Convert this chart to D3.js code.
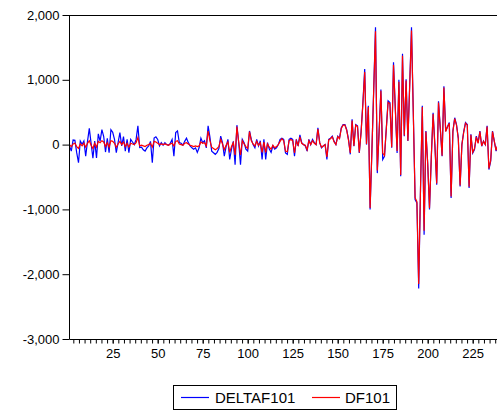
<!DOCTYPE html>
<html>
<head>
<meta charset="utf-8">
<script src="https://cdn.jsdelivr.net/npm/d3@7"></script>
<style>
  html, body { margin: 0; padding: 0; background: #fff; overflow: hidden; }
  svg text { font-family: "Liberation Sans", Arial, Helvetica, sans-serif; fill: #000; }
</style>
</head>
<body>
<svg id="chart" width="497" height="412"></svg>
<script>
// Series values, observations 1..239
const deltaf101 = [
  -20, -100, 70, 65, -125, -280, 55, 5, 55, -180,
  50, 250, 20, -210, 55, -205, 165, 55, 230, 125,
  -115, 95, -125, 230, 190, 80, -125, 30, 185, -20,
  125, -100, 80, -125, 80, 40, 0, 80, 290, -45,
  -40, -80, -100, -50, -20, 50, -280, 100, 120, 80,
  -20, 30, -10, 30, 0, -10, 20, 80, -180, 185,
  210, 30, 20, -10, 50, 100, 30, -20, -50, -70,
  -50, -120, -50, 100, 30, 60, -50, 290, 120, -100,
  -125, -150, -120, -60, 130, 30, -180, -30, 80, -230,
  -70, 50, -310, 300, 30, -310, 80, 30, -70, -100,
  210, 80, 0, -50, 80, -20, 60, -230, 80, -230,
  30, -70, -120, -20, -70, -50, 0, 80,
  100, 80, -130, -150, 80, 100, 80, -180, 80, -20,
  150, 30, 0, -20, -100, 80, 0, 80, 30, 0,
  260, 30, -50, -20, 0, -230, 80, 100, 130, 50,
  0, 130, 100, 260, 310, 310, 230, 80, -150, 390,
  -25, 310, 290,
  -130, 200, 650, 1165, 0, 600, -1000, -100, 850, 1810,
  -440, 200, 850, -230, -180, 250, 675, 650, -50, 1270,
  570, -130, 1000, -490, 1400, 130, 1010, 55, 930, 1810,
  500, -850, -900, -2220, -700, 600, -1390, 210, -300,
  -1000, -200, 490, 0, -620, 670, 250, -180, 900, 210,
  280, 340, -825, 210, 415, 310, 100, -645, 0, 200,
  340, 310, -670, 160, -130, -75, 130, 30, 210, -25,
  55, 0, 290, -385, -255, 210, 55, -100, 0
];

const df101 = [
  0, -30, 10, 20, -30, -60, 10, -20, 20, -40,
  20, 60, -10, -60, 20, -40, 50, 30, 60, 40,
  -30, 30, -40, 60, 50, 20, -40, 10, 50, 0,
  40, -30, 20, -40, 20, 10, 0, 30, 110, -20,
  -10, -20, -30, -10, 0, 20, -40, 50, 40, 20,
  0, 10, 0, 10, 0, -10, 10, 20, -20, 50,
  60, 10, 0, -10, 20, 30, 10, -10, -20, -30,
  -20, -30, -20, 40, 20, 30, -20, 210, 60, -40,
  -60, -80, -60, -30, 80, 10, -80, -10, 40, -120,
  -30, 30, -160, 280, 40, -160, 60, 10, -30, -60,
  200, 60, 10, -20, 50, -10, 30, -120, 40, -120,
  10, -40, -70, -10, -50, -30, 0, 50,
  90, 60, -100, -110, 60, 80, 60, -130, 60, -10,
  120, 20, 0, -10, -80, 60, 0, 60, 20, 0,
  240, 30, -40, -20, 0, -190, 70, 90, 120, 40,
  0, 120, 90, 250, 300, 300, 220, 70, -130, 370,
  -20, 300, 280,
  -120, 190, 630, 1120, 10, 580, -980, -90, 830, 1750,
  -400, 190, 830, -130, -170, 240, 650, 630, -40, 1230,
  550, -100, 970, -470, 1370, 140, 990, 60, 900, 1760,
  480, -820, -880, -2150, -680, 580, -1330, 200, -290,
  -980, -190, 470, -30, -600, 650, 240, -170, 880, 200,
  270, 330, -800, 200, 400, 300, 90, -630, 0, 190,
  330, 300, -650, 150, -120, -60, 120, 20, 200, -20,
  50, 0, 280, -370, -240, 200, 50, -90, 0
];

const seriesNames = ["DELTAF101", "DF101"];
const seriesColors = ["#0000ff", "#ff0000"];
const yTickValues = [-3000, -2000, -1000, 0, 1000, 2000];
const xLabelValues = [25, 50, 75, 100, 125, 150, 175, 200, 225];

const svg = d3.select("#chart");
const plotLeft = 69.5, plotRight = 500, plotTop = 15, plotBottom = 339;

const obs = d3.range(1, deltaf101.length + 1);
const x = d3.scaleLinear().domain([1, 239]).range([plotLeft, plotLeft + 238 * 1.8]);
const y = d3.scaleLinear().domain([-3000, 2000]).range([plotBottom, plotTop]);

const fmt = d3.formatLocale({decimal: ".", thousands: ",", grouping: [3], currency: ["", ""], minus: "-"}).format(",");

// clip for the data lines
svg.append("defs").append("clipPath").attr("id", "plotClip")
  .append("rect").attr("x", plotLeft).attr("y", plotTop)
  .attr("width", plotRight - plotLeft).attr("height", plotBottom - plotTop);

// lines: blue first, red drawn over it
const series = [deltaf101, df101];
const line = d3.line().x((d, i) => x(obs[i])).y(d => y(d));
svg.append("g").attr("clip-path", "url(#plotClip)")
  .selectAll("path").data(series).join("path")
  .attr("d", d => line(d))
  .attr("fill", "none")
  .attr("stroke", (d, i) => seriesColors[i])
  .attr("stroke-width", 1.2)
  .attr("stroke-linejoin", "miter");

// frame: top border
svg.append("line")
  .attr("x1", plotLeft).attr("x2", plotRight).attr("y1", plotTop + 0.5).attr("y2", plotTop + 0.5)
  .attr("stroke", "#000").attr("stroke-width", 1);

// left axis
const yAxis = d3.axisLeft(y).tickValues(yTickValues).tickSize(7).tickPadding(3).tickFormat(fmt);
const gy = svg.append("g").attr("transform", `translate(${plotLeft},0)`).call(yAxis);
gy.select(".domain").attr("d", `M0,${plotTop}V${plotBottom}`).attr("stroke", "#000");
gy.selectAll("text").style("font-size", "13px");

// bottom axis: minor ticks
const minorTicks = d3.range(0, 240, 25 / 8).filter(v => v >= 1.5);
const xMinor = d3.axisBottom(x).tickValues(minorTicks).tickSize(4).tickFormat("");
const gx = svg.append("g").attr("transform", `translate(0,${plotBottom + 0.5})`).call(xMinor);
gx.select(".domain").attr("d", `M${plotLeft},0H${plotRight}`).attr("stroke", "#000");

// bottom axis: labels
const xAxis = d3.axisBottom(x).tickValues(xLabelValues).tickSize(4).tickPadding(5).tickFormat(d3.format("d"));
const gxl = svg.append("g").attr("transform", `translate(0,${plotBottom + 0.5})`).call(xAxis);
gxl.select(".domain").remove();
gxl.selectAll("text").style("font-size", "13px");

// legend
const lg = svg.append("g");
lg.append("rect").attr("x", 173.5).attr("y", 385.5).attr("width", 223).attr("height", 24)
  .attr("fill", "#fff").attr("stroke", "#000").attr("stroke-width", 1);
const legendItems = [
  {x1: 181, x2: 209, tx: 215},
  {x1: 312, x2: 340, tx: 345}
];
legendItems.forEach((it, i) => {
  lg.append("line").attr("x1", it.x1).attr("x2", it.x2).attr("y1", 397.5).attr("y2", 397.5)
    .attr("stroke", seriesColors[i]).attr("stroke-width", 1.2);
  lg.append("text").attr("x", it.tx).attr("y", 403).style("font-size", "15px").text(seriesNames[i]);
});
</script>
</body>
</html>
